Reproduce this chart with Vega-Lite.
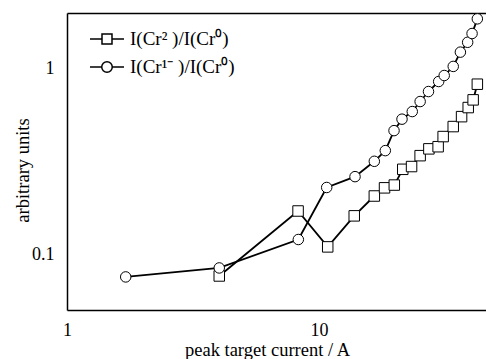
{
  "$schema": "https://vega.github.io/schema/vega-lite/v6.json",
  "autosize": "none",
  "width": 419,
  "height": 297,
  "padding": {"left": 67, "top": 13, "right": 0, "bottom": 49},
  "background": "white",
  "config": {
    "view": {"stroke": null},
    "font": "Liberation Serif",
    "axis": {"grid": false, "domainColor": "black", "labelColor": "black", "titleColor": "black", "domainWidth": 1.5, "labelFont": "Liberation Serif", "titleFont": "Liberation Serif", "titleFontWeight": "normal"}
  },
  "data": {
    "values": [
      {"series": "I(Cr²  )/I(Cr⁰)", "x": 4.02, "y": 0.0763},
      {"series": "I(Cr²  )/I(Cr⁰)", "x": 8.26, "y": 0.171},
      {"series": "I(Cr²  )/I(Cr⁰)", "x": 10.83, "y": 0.1095},
      {"series": "I(Cr²  )/I(Cr⁰)", "x": 13.8, "y": 0.161},
      {"series": "I(Cr²  )/I(Cr⁰)", "x": 16.58, "y": 0.206},
      {"series": "I(Cr²  )/I(Cr⁰)", "x": 18.2, "y": 0.228},
      {"series": "I(Cr²  )/I(Cr⁰)", "x": 19.9, "y": 0.236},
      {"series": "I(Cr²  )/I(Cr⁰)", "x": 21.5, "y": 0.287},
      {"series": "I(Cr²  )/I(Cr⁰)", "x": 23.3, "y": 0.297},
      {"series": "I(Cr²  )/I(Cr⁰)", "x": 25.2, "y": 0.34},
      {"series": "I(Cr²  )/I(Cr⁰)", "x": 27.3, "y": 0.37},
      {"series": "I(Cr²  )/I(Cr⁰)", "x": 29.7, "y": 0.38},
      {"series": "I(Cr²  )/I(Cr⁰)", "x": 31.1, "y": 0.431},
      {"series": "I(Cr²  )/I(Cr⁰)", "x": 34.1, "y": 0.488},
      {"series": "I(Cr²  )/I(Cr⁰)", "x": 36.8, "y": 0.552},
      {"series": "I(Cr²  )/I(Cr⁰)", "x": 39.1, "y": 0.618},
      {"series": "I(Cr²  )/I(Cr⁰)", "x": 40.9, "y": 0.68},
      {"series": "I(Cr²  )/I(Cr⁰)", "x": 42.5, "y": 0.826},
      {"series": "I(Cr¹⁻ )/I(Cr⁰)", "x": 1.71, "y": 0.0754},
      {"series": "I(Cr¹⁻ )/I(Cr⁰)", "x": 4.02, "y": 0.0843},
      {"series": "I(Cr¹⁻ )/I(Cr⁰)", "x": 8.28, "y": 0.12},
      {"series": "I(Cr¹⁻ )/I(Cr⁰)", "x": 10.73, "y": 0.229},
      {"series": "I(Cr¹⁻ )/I(Cr⁰)", "x": 13.9, "y": 0.262},
      {"series": "I(Cr¹⁻ )/I(Cr⁰)", "x": 16.58, "y": 0.317},
      {"series": "I(Cr¹⁻ )/I(Cr⁰)", "x": 18.33, "y": 0.362},
      {"series": "I(Cr¹⁻ )/I(Cr⁰)", "x": 19.85, "y": 0.464},
      {"series": "I(Cr¹⁻ )/I(Cr⁰)", "x": 21.35, "y": 0.535},
      {"series": "I(Cr¹⁻ )/I(Cr⁰)", "x": 23.45, "y": 0.588},
      {"series": "I(Cr¹⁻ )/I(Cr⁰)", "x": 25.2, "y": 0.666},
      {"series": "I(Cr¹⁻ )/I(Cr⁰)", "x": 27.2, "y": 0.754},
      {"series": "I(Cr¹⁻ )/I(Cr⁰)", "x": 29.85, "y": 0.854},
      {"series": "I(Cr¹⁻ )/I(Cr⁰)", "x": 31.4, "y": 0.92},
      {"series": "I(Cr¹⁻ )/I(Cr⁰)", "x": 34.1, "y": 1.03},
      {"series": "I(Cr¹⁻ )/I(Cr⁰)", "x": 36.4, "y": 1.23},
      {"series": "I(Cr¹⁻ )/I(Cr⁰)", "x": 38.9, "y": 1.39},
      {"series": "I(Cr¹⁻ )/I(Cr⁰)", "x": 40.5, "y": 1.55},
      {"series": "I(Cr¹⁻ )/I(Cr⁰)", "x": 42.5, "y": 1.86}
    ]
  },
  "resolve": {"axis": {"x": "independent", "y": "independent"}},
  "layer": [
    {
      "mark": {"type": "line", "color": "black", "strokeWidth": 1.8},
      "encoding": {
        "x": {"field": "x", "type": "quantitative",
          "scale": {"type": "log", "domain": [1, 46], "nice": false},
          "axis": {"orient": "bottom", "values": [1, 10], "ticks": false,
            "format": "~g",
            "labelFontSize": 18, "labelPadding": 11, "labelFlush": false,
            "title": "peak target current / A", "titleFontSize": 18.5, "titleX": 200, "titleY": 45, "titleBaseline": "alphabetic"}},
        "y": {"field": "y", "type": "quantitative",
          "scale": {"type": "log", "domain": [0.05, 2], "nice": false},
          "axis": {"orient": "left", "values": [0.1, 1], "ticks": false,
            "format": "~g",
            "labelFontSize": 18, "labelPadding": 13, "labelFlush": false,
            "title": "arbitrary units", "titleFontSize": 18.5, "titleX": -45, "titleY": 157, "titleBaseline": "middle"}},
        "detail": {"field": "series"}
      }
    },
    {
      "transform": [{"filter": "datum.series === 'I(Cr²  )/I(Cr⁰)'"}],
      "mark": {"type": "point", "shape": "square", "filled": false, "fill": "white", "fillOpacity": 1, "stroke": "black", "strokeWidth": 1, "opacity": 1, "size": 110},
      "encoding": {
        "x": {"field": "x", "type": "quantitative", "axis": null},
        "y": {"field": "y", "type": "quantitative", "axis": null}
      }
    },
    {
      "transform": [{"filter": "datum.series === 'I(Cr¹⁻ )/I(Cr⁰)'"}],
      "mark": {"type": "point", "shape": "circle", "filled": false, "fill": "white", "fillOpacity": 1, "stroke": "black", "strokeWidth": 1, "opacity": 1, "size": 110},
      "encoding": {
        "x": {"field": "x", "type": "quantitative",
          "axis": {"orient": "top", "ticks": false, "labels": false, "title": null, "domainWidth": 1.5}},
        "y": {"field": "y", "type": "quantitative", "axis": null}
      }
    },
    {
      "mark": {"type": "point", "filled": false, "opacity": 0, "size": 1},
      "encoding": {
        "x": {"field": "x", "type": "quantitative", "axis": null},
        "y": {"field": "y", "type": "quantitative", "axis": null},
        "shape": {"field": "series", "type": "nominal",
          "scale": {"domain": ["I(Cr²  )/I(Cr⁰)", "I(Cr¹⁻ )/I(Cr⁰)"],
            "range": ["M-1,0H-0.294M0.294,0H1M-0.294,-0.294H0.294V0.294H-0.294Z", "M-1,0H-0.31M0.31,0H1M0.31,0A0.31,0.31 0 1,1 -0.31,0A0.31,0.31 0 1,1 0.31,0Z"]},
          "legend": {"orient": "none", "legendX": 22, "legendY": 8, "title": null,
            "labelFont": "Liberation Serif", "labelFontSize": 19, "labelColor": "black", "labelOffset": 5,
            "rowPadding": 0, "symbolSize": 1156, "symbolOpacity": 1,
            "symbolFillColor": "white", "symbolStrokeColor": "black", "symbolStrokeWidth": 1.5,
            "encode": {"symbols": {"update": {
              "opacity": {"value": 1},
              "fill": {"value": "white"},
              "fillOpacity": {"value": 1},
              "stroke": {"value": "black"},
              "strokeOpacity": {"value": 1},
              "strokeWidth": {"value": 1.5},
              "size": {"value": 1156}
            }}}}}
      }
    }
  ]
}
